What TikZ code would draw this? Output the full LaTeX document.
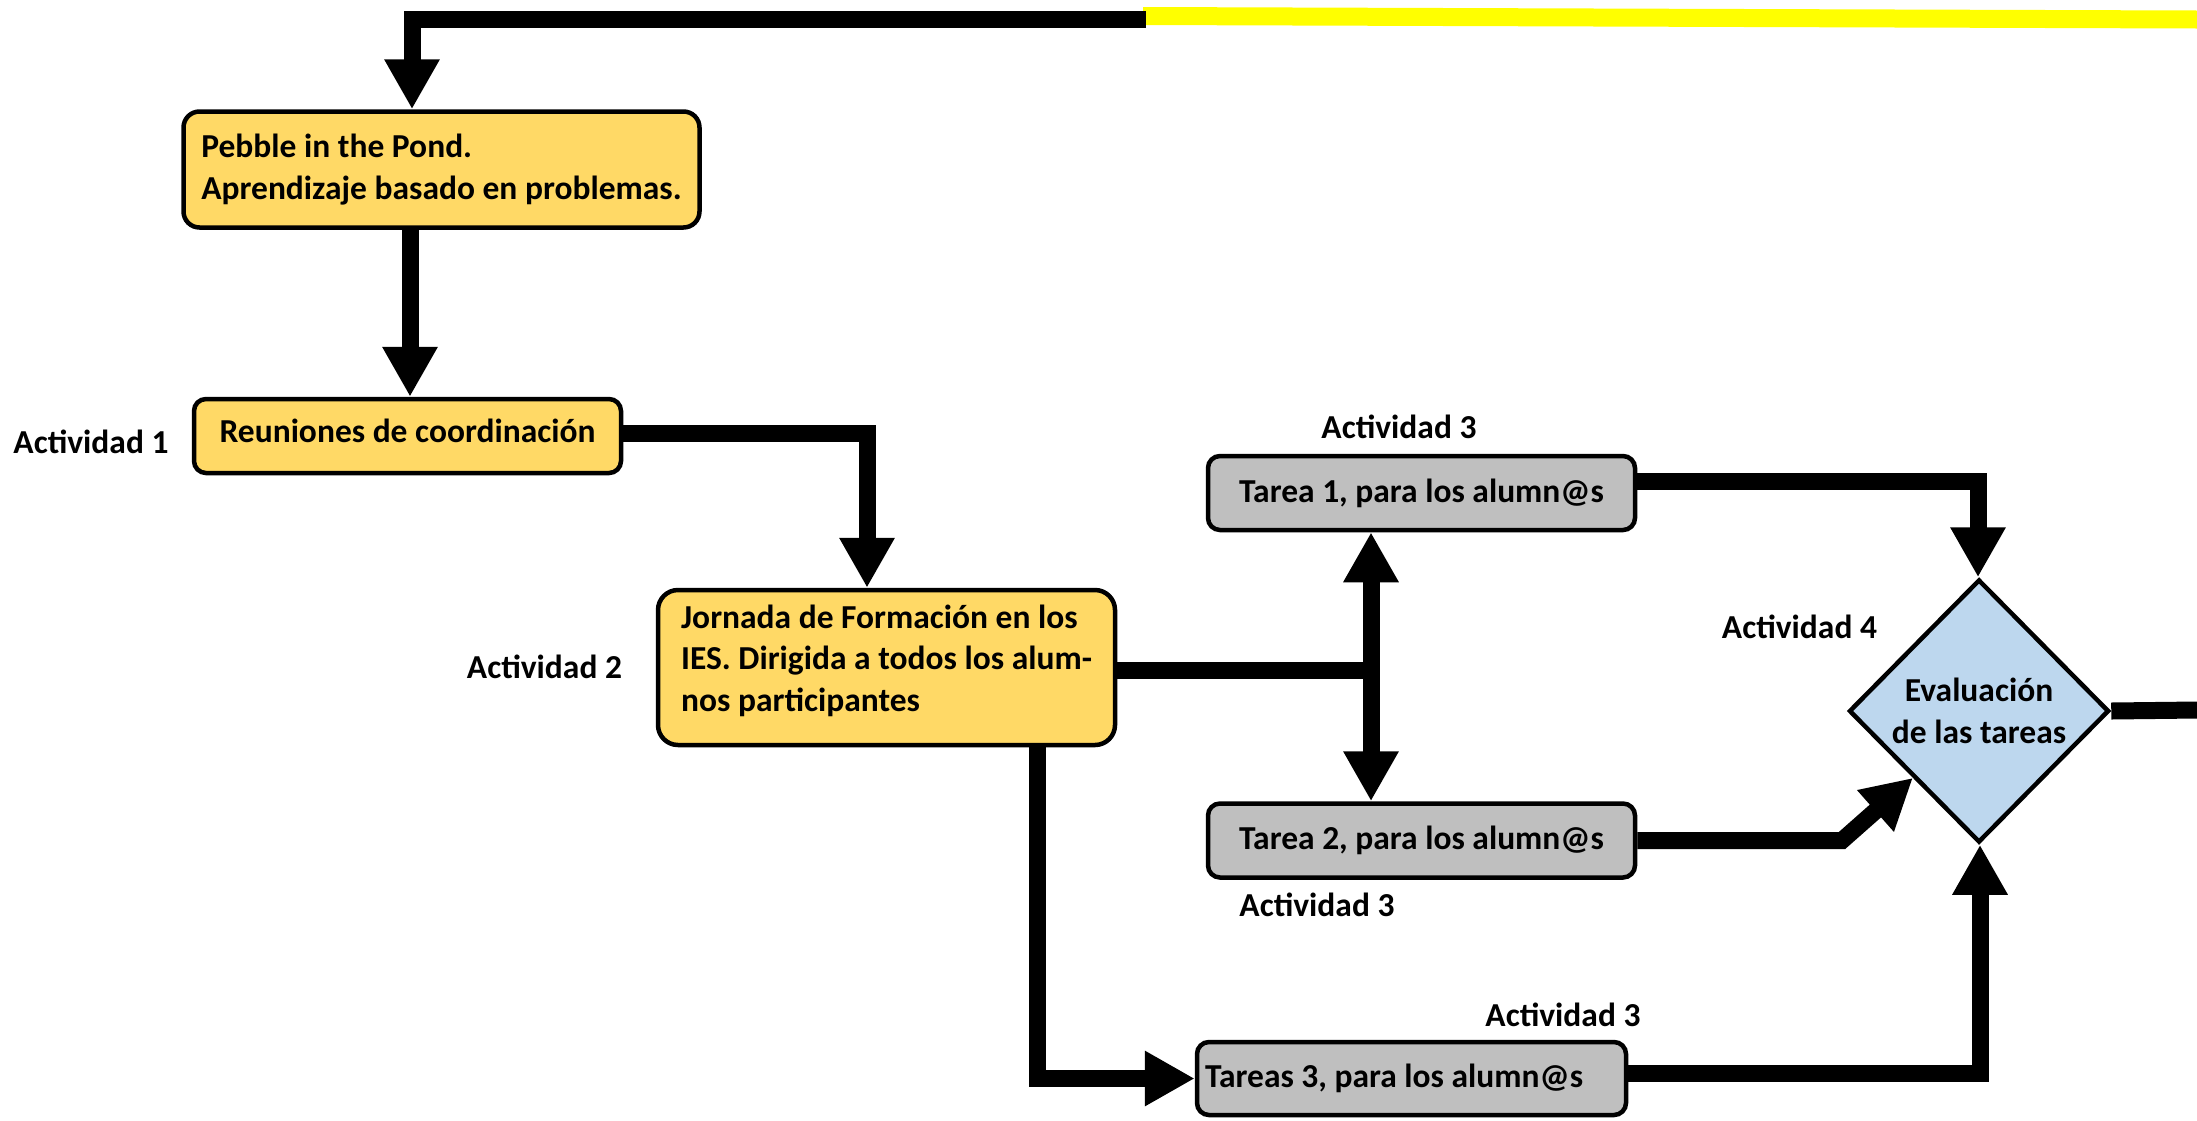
\documentclass[tikz,border=0pt]{standalone}
\usepackage{fontspec}
\setmainfont{Carlito}
\usetikzlibrary{arrows.meta,shapes.geometric,calc}
\definecolor{boxyellow}{HTML}{FFD966}
\definecolor{boxgray}{HTML}{BFBFBF}
\definecolor{boxblue}{HTML}{BDD7EE}
\definecolor{lineyellow}{HTML}{FFFF00}
\begin{document}
\begin{tikzpicture}[x=1pt,y=-1pt,
  every node/.style={font=\fontsize{33.5}{41.5}\selectfont\bfseries},
  box/.style={draw=black, line width=4.5pt, rectangle, inner sep=0pt},
  ybox/.style={box, fill=boxyellow},
  gbox/.style={box, fill=boxgray, rounded corners=12pt},
  conn/.style={line width=17pt, draw=black},
  arr/.style={conn, -{Triangle[length=50pt,width=52pt]}},
  lbl/.style={anchor=base, inner sep=0pt},
]
\fill[white] (0,0) rectangle (2197,1120);
\useasboundingbox (0,0) rectangle (2197,1120);

% boxes
\node[ybox, rounded corners=16pt, minimum width=516pt, minimum height=116pt, align=left] (pebble) at (441.5,169.5) {Pebble in the Pond.\\Aprendizaje basado en problemas.};
\node[ybox, rounded corners=12pt, minimum width=427pt, minimum height=74pt] (reun) at (407.5,436) {Reuniones de coordinación\rule[-11pt]{0pt}{11pt}};
\node[ybox, rounded corners=20pt, minimum width=457pt, minimum height=155pt, align=left] (jorn) at (886.5,667.5) {Jornada de Formación en los\\IES. Dirigida a todos los alum-\\nos participantes\rule[-19pt]{0pt}{19pt}};
\node[gbox, minimum width=427pt, minimum height=74pt] (t1) at (1421.5,493) {Tarea 1, para los alumn@s};
\node[gbox, minimum width=427pt, minimum height=74pt] (t2) at (1421.5,840.5) {Tarea 2, para los alumn@s};
\node[gbox, minimum width=429pt, minimum height=73pt] (t3) at (1411.5,1078.5) {\makebox[413pt][l]{Tareas 3, para los alumn@s}};
\node[draw=black, line width=4.5pt, diamond, fill=boxblue, aspect=1, minimum width=260pt, minimum height=263pt, inner sep=0pt, align=center] (eval) at (1979,711) {Evaluación\\de las tareas};

% labels
\node[lbl] (a1) at (91,453) {Actividad 1};
\node[lbl] (a2) at (544.5,678) {Actividad 2};
\node[lbl] (a3a) at (1399,438) {Actividad 3};
\node[lbl] (a3b) at (1317,916) {Actividad 3};
\node[lbl] (a3c) at (1563,1026) {Actividad 3};
\node[lbl] (a4) at (1799.5,638) {Actividad 4};

% helper coordinates
\coordinate (ystart) at (1143,16);
\coordinate (yend) at (2197,19.5);
\coordinate (topj) at (1146,19.5);
\coordinate (topl) at (412,19.5);
\coordinate (c2) at (410,0);
\coordinate (c3) at (867,433);
\coordinate (jx) at (1371,670);
\coordinate (c5) at (1037,1080);
\coordinate (c6) at (1978,481);
\coordinate (c7) at (1842,840.5);
\coordinate (c8) at (1980,1073);
\coordinate (rend) at (2197,710);

% connectors
\draw[lineyellow, line width=18pt] (ystart) -- (yend);
\draw[arr] (topj) -- (topl) -- (pebble.north -| topl);
\draw[arr] (pebble.south -| c2) -- (reun.north -| c2);
\draw[arr] (reun.east |- c3) -- (c3) -- (jorn.north -| c3);
\draw[conn] (jorn.east |- jx) -- (jx);
\draw[arr] (jx) -- (t1.south -| jx);
\draw[arr] (jx) -- (t2.north -| jx);
\draw[arr] (jorn.south -| c5) -- (c5 |- t3.west) -- (t3.west);
\draw[arr] (t1.east |- c6) -- (c6) -- (eval.north -| c6);
\draw[arr] (t2.east) -- (c7) -- (eval.south west);
\draw[arr] (t3.east |- c8) -- (c8) -- (eval.south -| c8);
\draw[conn] (eval.east) -- (rend);
\end{tikzpicture}
\end{document}
